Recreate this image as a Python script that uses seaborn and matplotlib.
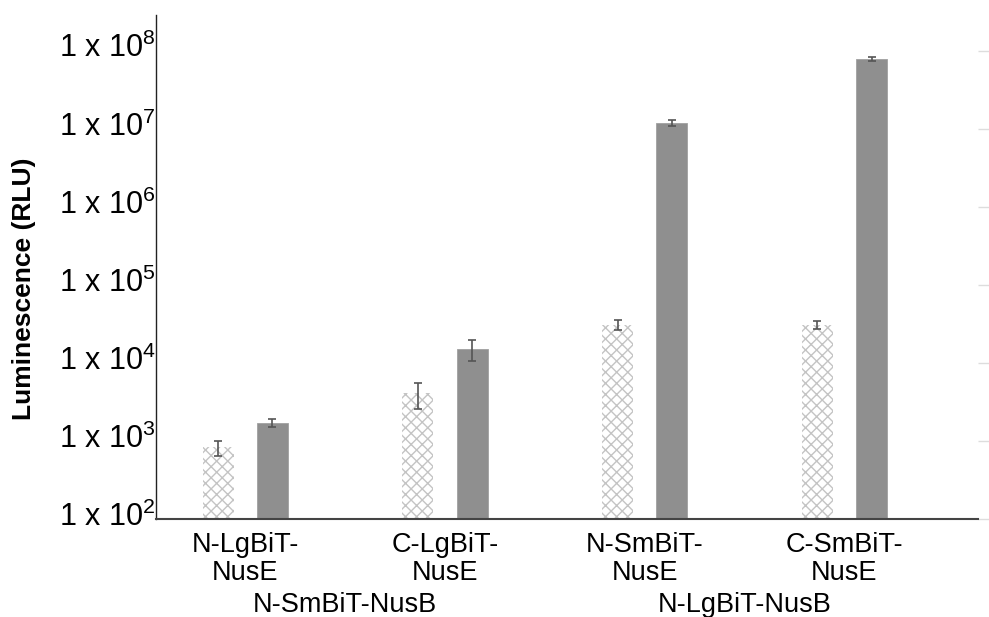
import pandas as pd
import matplotlib.pyplot as plt
import matplotlib.transforms as mtransforms
import seaborn as sns

# --- data ---
constructs = ['N-LgBiT-\nNusE', 'C-LgBiT-\nNusE', 'N-SmBiT-\nNusE', 'C-SmBiT-\nNusE']
conditions = ['control', 'complex']
control_mean = [830, 4100, 31000, 31000]
control_err = [180, 1500, 4500, 4000]
complex_mean = [1700, 15000, 1.2e7, 7.9e7]
complex_err = [200, 4500, 1.0e6, 5.0e6]
partners = ['N-SmBiT-NusB', 'N-LgBiT-NusB']
partner_groups = [[0, 1], [2, 3]]
ytick_values = [1e2, 1e3, 1e4, 1e5, 1e6, 1e7, 1e8]
ytick_labels = [r'1 x 10$^{2}$', r'1 x 10$^{3}$', r'1 x 10$^{4}$', r'1 x 10$^{5}$',
                r'1 x 10$^{6}$', r'1 x 10$^{7}$', r'1 x 10$^{8}$']

sns.set_style('white')
plt.rcParams['font.family'] = ['Liberation Sans', 'DejaVu Sans']
plt.rcParams['mathtext.fontset'] = 'custom'
plt.rcParams['mathtext.rm'] = 'Liberation Sans'
plt.rcParams['mathtext.it'] = 'Liberation Sans'
plt.rcParams['hatch.linewidth'] = 1.0
for key in ['text.color', 'axes.labelcolor', 'xtick.color', 'ytick.color']:
    plt.rcParams[key] = 'black'

df = pd.DataFrame({
    'construct': constructs * 2,
    'condition': [conditions[0]] * 4 + [conditions[1]] * 4,
    'value': control_mean + complex_mean,
})

fig = plt.figure(figsize=(9.89, 6.17), dpi=100)
ax = fig.add_axes([0.1577, 0.1588, 0.9888 - 0.1577, 0.9757 - 0.1588])

sns.barplot(data=df, x='construct', y='value', hue='condition',
            order=constructs, hue_order=conditions,
            palette=['white', '#8f8f8f'], saturation=1,
            width=0.544, gap=0.43, errorbar=None, legend=False, ax=ax)

ax.set_yscale('log')
ax.set_ylim(1e2, 10 ** 8.46)
ax.set_xlim(-0.447, 3.668)

# hatched control bars, plain grey complex bars
for bar in ax.containers[0]:
    bar.set_facecolor('white')
    bar.set_hatch('xxx')
    bar.set_edgecolor('#c4c4c4')
    bar.set_linewidth(0)
for bar in ax.containers[1]:
    bar.set_edgecolor('#a0a0a0')
    bar.set_linewidth(0.6)

# error bars at the bar centres
for cont, means, errs in zip(ax.containers, [control_mean, complex_mean],
                             [control_err, complex_err]):
    xs = [b.get_x() + b.get_width() / 2 for b in cont]
    ax.errorbar(xs, means, yerr=errs, fmt='none', ecolor='#555555',
                elinewidth=1.2, capsize=3, capthick=1.2, zorder=5)

ax.set_yticks(ytick_values)
ax.set_yticklabels(ytick_labels, fontsize=22)
ax.yaxis.set_minor_locator(plt.NullLocator())
ax.tick_params(axis='y', left=False, right=True, labelright=False,
               direction='out', length=8, width=1, color='#dddddd', pad=-7.5)
# lift the tick labels a little so the digits sit on the tick line
lift = mtransforms.ScaledTranslation(0, 4 / 72, fig.dpi_scale_trans)
for tick in ax.yaxis.get_major_ticks():
    tick.label1.set_transform(tick.label1.get_transform() + lift)
ax.tick_params(axis='x', bottom=False, labelsize=19.5, pad=6)
for lbl in ax.get_xticklabels():
    lbl.set_linespacing(1.08)

ax.set_xlabel('')
ax.set_ylabel('Luminescence (RLU)', fontsize=19, fontweight='bold')
ax.yaxis.set_label_coords(-0.146, 0.456)

for side in ['top', 'right']:
    ax.spines[side].set_visible(False)
ax.spines['left'].set_color('#222222')
ax.spines['left'].set_linewidth(1.0)
ax.spines['bottom'].set_color('#444444')
ax.spines['bottom'].set_linewidth(1.5)

# partner labels under the construct labels
trans = mtransforms.blended_transform_factory(ax.transData, ax.transAxes)
for name, idx in zip(partners, partner_groups):
    xc = sum(idx) / len(idx)
    ax.text(xc, -0.171, name, transform=trans, ha='center', va='center',
            fontsize=19.5)

fig.savefig('out.png', dpi=100)
